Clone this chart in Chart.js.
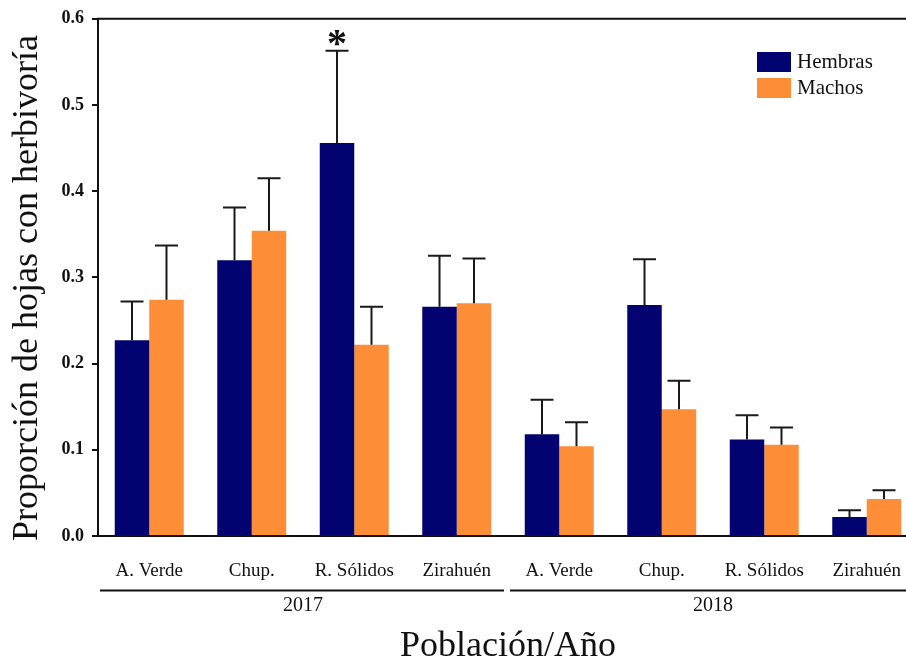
<!DOCTYPE html>
<html>
<head>
<meta charset="utf-8">
<script src="https://cdn.jsdelivr.net/npm/chart.js@4"></script>
<style>
  html, body { margin: 0; padding: 0; background: #fff; overflow: hidden; }
  #wrap { width: 920px; height: 661px; }
</style>
</head>
<body>
<div id="wrap"><canvas id="herbivoriaChart" width="920" height="661"></canvas></div>
<script>
// Datos
const poblaciones = ['A. Verde', 'Chup.', 'R. Sólidos', 'Zirahuén', 'A. Verde', 'Chup.', 'R. Sólidos', 'Zirahuén'];
const anios = ['2017', '2018'];
const hembras = [0.227, 0.320, 0.456, 0.266, 0.118, 0.268, 0.112, 0.022];
const hembrasErr = [0.045, 0.061, 0.107, 0.059, 0.040, 0.053, 0.028, 0.008];
const machos = [0.274, 0.354, 0.222, 0.270, 0.104, 0.147, 0.106, 0.043];
const machosErr = [0.063, 0.061, 0.044, 0.052, 0.028, 0.033, 0.020, 0.010];
const significativo = [false, false, true, false, false, false, false, false]; // asterisco sobre hembras
const yTicks = [0, 0.1, 0.2, 0.3, 0.4, 0.5, 0.6];

const serif = "'Liberation Serif', 'Times New Roman', serif";
const errores = [hembrasErr, machosErr];

// Barras de error, asterisco, marco superior, años y leyenda
const extras = {
    id: 'extras',
    afterDatasetsDraw(chart) {
        const ctx = chart.ctx;
        const y = chart.scales.y;
        const x = chart.scales.x;
        const area = chart.chartArea;
        ctx.save();

        // barras de error (solo hacia arriba)
        ctx.strokeStyle = '#1a1a1a';
        ctx.lineWidth = 2;
        chart.data.datasets.forEach((ds, i) => {
            const meta = chart.getDatasetMeta(i);
            meta.data.forEach((bar, j) => {
                const top = y.getPixelForValue(ds.data[j] + errores[i][j]);
                ctx.beginPath();
                ctx.moveTo(bar.x, bar.y);
                ctx.lineTo(bar.x, top);
                ctx.moveTo(bar.x - 11.5, top);
                ctx.lineTo(bar.x + 11.5, top);
                ctx.stroke();
                if (i === 0 && significativo[j]) {
                    ctx.fillStyle = '#111';
                    ctx.font = 'bold 40px ' + serif;
                    ctx.textAlign = 'center';
                    ctx.textBaseline = 'alphabetic';
                    ctx.fillText('*', bar.x, top + 5);
                }
            });
        });

        // línea superior del marco
        ctx.strokeStyle = '#111';
        ctx.lineWidth = 2;
        ctx.beginPath();
        ctx.moveTo(area.left - 1, area.top);
        ctx.lineTo(area.right + 2, area.top);
        ctx.stroke();

        // líneas de agrupación por año
        const paso = x.getPixelForValue(1) - x.getPixelForValue(0);
        ctx.font = '20px ' + serif;
        ctx.fillStyle = '#111';
        ctx.textAlign = 'center';
        ctx.textBaseline = 'middle';
        anios.forEach((anio, k) => {
            const x0 = x.getPixelForValue(k * 4) - paso / 2 + 2;
            const x1 = x.getPixelForValue(k * 4 + 3) + paso / 2 - 4;
            ctx.beginPath();
            ctx.moveTo(x0, 590.5);
            ctx.lineTo(x1, 590.5);
            ctx.stroke();
            ctx.fillText(anio, (x0 + x1) / 2 + 1, 606);
        });

        // título eje Y
        ctx.save();
        ctx.translate(28, 288);
        ctx.rotate(-Math.PI / 2);
        ctx.font = '36px ' + serif;
        ctx.fillText('Proporción de hojas con herbivoría', 0, 0);
        ctx.restore();

        // leyenda
        ctx.font = '21px ' + serif;
        ctx.textAlign = 'left';
        chart.data.datasets.forEach((ds, i) => {
            const top = 52 + i * 26;
            ctx.fillStyle = ds.backgroundColor;
            ctx.fillRect(757, top, 34, 20);
            ctx.fillStyle = '#111';
            ctx.fillText(ds.label, 797, top + 10);
        });
        ctx.restore();
    }
};

const ctx = document.getElementById('herbivoriaChart').getContext('2d');
const herbivoriaChart = new Chart(ctx, {
    type: 'bar',
    data: {
        labels: poblaciones,
        datasets: [{
            label: 'Hembras',
            data: hembras,
            backgroundColor: '#020270',
            borderWidth: 0
        }, {
            label: 'Machos',
            data: machos,
            backgroundColor: '#FD8D36',
            borderWidth: 0
        }]
    },
    options: {
        responsive: false,
        animation: false,
        devicePixelRatio: 1,
        layout: { padding: { top: 18, right: 2, left: 0, bottom: 0 } },
        datasets: {
            bar: { categoryPercentage: 0.673, barPercentage: 1.0 }
        },
        plugins: {
            legend: { display: false },
            tooltip: { enabled: false }
        },
        scales: {
            x: {
                grid: { display: false },
                border: { display: true, color: '#111', width: 2 },
                ticks: {
                    color: '#111',
                    padding: 16,
                    maxRotation: 0,
                    font: { family: serif, size: 19 }
                },
                title: {
                    display: true,
                    text: 'Población/Año',
                    color: '#111',
                    font: { family: serif, size: 36, lineHeight: 0.8 },
                    padding: 0
                },
                afterFit(axis) { axis.height = 125; }
            },
            y: {
                min: 0,
                max: 0.6,
                afterBuildTicks(axis) { axis.ticks = yTicks.map(v => ({ value: v })); },
                grid: {
                    drawOnChartArea: false,
                    drawTicks: true,
                    tickLength: 6,
                    color: '#111',
                    lineWidth: 2
                },
                border: { display: true, color: '#111', width: 2 },
                ticks: {
                    color: '#111',
                    padding: 8,
                    font: { family: serif, size: 18, weight: 'bold' },
                    callback: v => v.toFixed(1)
                },
                afterFit(axis) { axis.width = 98; }
            }
        }
    },
    plugins: [extras]
});
</script>
</body>
</html>
